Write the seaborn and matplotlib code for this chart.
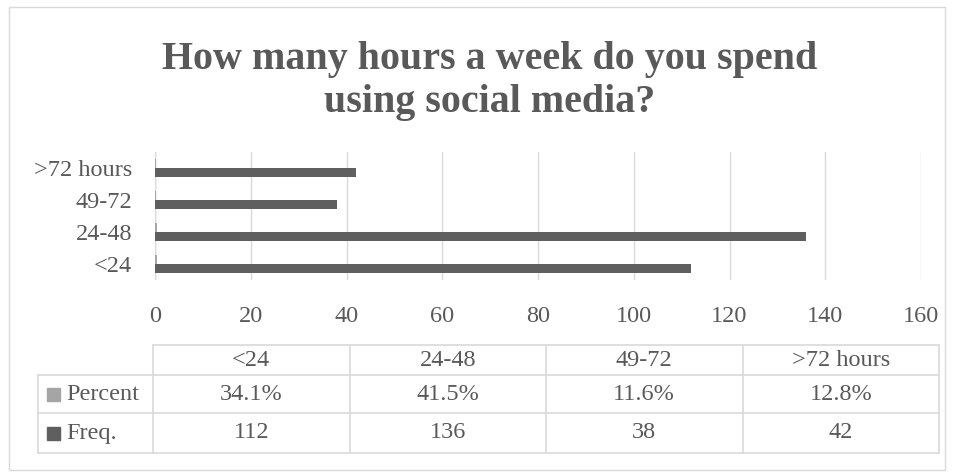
import matplotlib
matplotlib.use("Agg")
import matplotlib.pyplot as plt
import seaborn as sns
import pandas as pd
from matplotlib.lines import Line2D
from matplotlib.patches import Rectangle

categories = ["<24", "24-48", "49-72", ">72 hours"]
percent = [34.1, 41.5, 11.6, 12.8]
freq = [112, 136, 38, 42]
series_names = ["Percent", "Freq."]
xticks = [0, 20, 40, 60, 80, 100, 120, 140, 160]
title = "How many hours a week do you spend\nusing social media?"

TXT = "#595959"
C_PCT = "#a5a5a5"
C_FRQ = "#5f5f5f"
GRID = "#d9d9d9"
FONT = ["Liberation Serif", "DejaVu Serif"]
FS = 17.5

sns.set_theme(style="white")
plt.rcParams["font.family"] = FONT

W, H = 956, 476
fig = plt.figure(figsize=(W / 100, H / 100), dpi=100)

def fx(px):
    return px / W

def fy(py):
    return 1 - py / H

# outer border
fig.add_artist(Rectangle((fx(9), fy(470)), fx(945) - fx(9), fy(7) - fy(470),
                         transform=fig.transFigure, fill=False, edgecolor=GRID, lw=1))

ax_l, ax_r, ax_t, ax_b = 155, 921, 152, 280
ax = fig.add_axes([fx(ax_l), fy(ax_b), fx(ax_r) - fx(ax_l), fy(ax_t) - fy(ax_b)])

rows = []
order = categories[::-1]
for c, p, f in zip(categories, percent, freq):
    rows.append({"cat": c, "series": series_names[0], "val": p / 100})
    rows.append({"cat": c, "series": series_names[1], "val": f})
df = pd.DataFrame(rows)

sns.barplot(data=df, y="cat", x="val", hue="series", order=order,
            hue_order=series_names, palette=[C_PCT, C_FRQ], orient="h",
            width=0.5625, gap=0, ax=ax, legend=False, saturation=1,
            linewidth=0, edgecolor="none")

ax.set_xlim(0, 160)
ax.set_xticks(xticks)
ax.set_xticklabels([str(t) for t in xticks])
ax.set_xlabel("")
ax.set_ylabel("")
ax.grid(axis="x", color=GRID, lw=1)
ax.set_axisbelow(True)
for s in ax.spines.values():
    s.set_visible(False)
ax.axvline(0, color=GRID, lw=1, zorder=0)
ax.tick_params(axis="x", length=0, pad=19, labelsize=FS, labelcolor=TXT)
ax.tick_params(axis="y", length=0, pad=16.5, labelsize=FS, labelcolor=TXT)

# title
fig.text(fx(490), fy(81), title, ha="center", va="center", fontsize=28.8,
         fontweight="bold", color=TXT, linespacing=1.2)

# data table
col_edges = [153, 349.5, 546, 742.5, 939]
row_edges = [345, 375, 413, 453]
lab_left = 38

def hline(x0, x1, y):
    fig.add_artist(Line2D([fx(x0), fx(x1)], [fy(y), fy(y)], transform=fig.transFigure,
                          color=GRID, lw=1.2))

def vline(x, y0, y1):
    fig.add_artist(Line2D([fx(x), fx(x)], [fy(y0), fy(y1)], transform=fig.transFigure,
                          color=GRID, lw=1.2))

hline(col_edges[0], col_edges[-1], row_edges[0])
hline(lab_left, col_edges[-1], row_edges[1])
hline(lab_left, col_edges[-1], row_edges[2])
hline(lab_left, col_edges[-1], row_edges[3])
for x in col_edges:
    vline(x, row_edges[0], row_edges[3])
vline(lab_left, row_edges[1], row_edges[3])

hdr_y = (row_edges[0] + row_edges[1]) / 2
pct_y = (row_edges[1] + row_edges[2]) / 2
frq_y = (row_edges[2] + row_edges[3]) / 2
for i, c in enumerate(categories):
    cx = (col_edges[i] + col_edges[i + 1]) / 2
    fig.text(fx(cx), fy(hdr_y), c, ha="center", va="center", fontsize=FS, color=TXT)
    fig.text(fx(cx), fy(pct_y), f"{percent[i]:.1f}%", ha="center", va="center",
             fontsize=FS, color=TXT)
    fig.text(fx(cx), fy(frq_y), f"{freq[i]}", ha="center", va="center",
             fontsize=FS, color=TXT)

for name, col, yy in [(series_names[0], C_PCT, pct_y), (series_names[1], C_FRQ, frq_y)]:
    fig.add_artist(Rectangle((fx(47), fy(yy + 6.5)), fx(13), fy(0) - fy(13),
                             transform=fig.transFigure, color=col))
    fig.text(fx(66), fy(yy), name, ha="left", va="center", fontsize=FS, color=TXT)

fig.savefig("out.png", dpi=100)
